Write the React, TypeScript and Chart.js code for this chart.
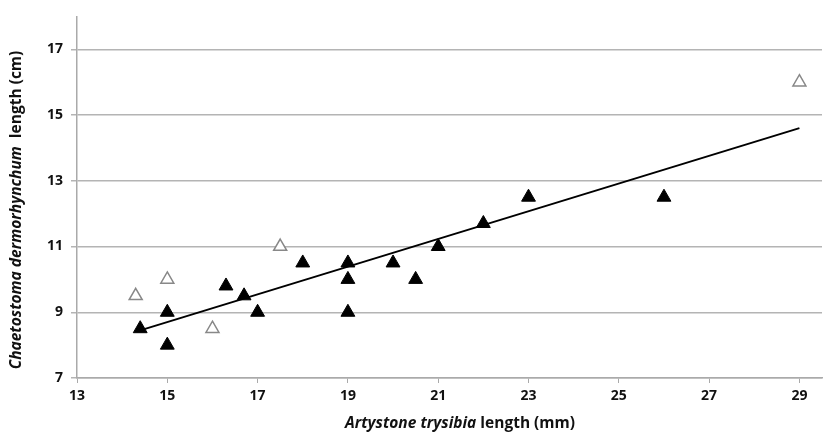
import React, { useEffect, useRef } from "react";
import { Chart, registerables } from "chart.js";

Chart.register(...registerables);

const xTicks = [13, 15, 17, 19, 21, 23, 25, 27, 29];
const yTicks = [7, 9, 11, 13, 15, 17];

const filledX = [14.4, 15, 15, 16.3, 16.7, 17, 18, 19, 19, 19, 20, 20.5, 21, 22, 23, 26];
const filledY = [8.5, 9, 8, 9.8, 9.5, 9, 10.5, 10.5, 10, 9, 10.5, 10, 11, 11.7, 12.5, 12.5];

const openX = [14.3, 15, 16, 17.5, 29];
const openY = [9.5, 10, 8.5, 11, 16];

const trendX = [14.4, 29];
const trendY = [8.45, 14.6];

const FONT = "'Open Sans', sans-serif";
const TITLE_SIZE = 15.5;

const titlePlugin = {
  id: "mixedTitles",
  afterDraw(chart: any) {
    const ctx = chart.ctx;
    const drawParts = (parts: { t: string; i: boolean }[]) => {
      let total = 0;
      const widths = parts.map((p) => {
        ctx.font = `${p.i ? "italic " : ""}bold ${TITLE_SIZE}px ${FONT}`;
        const w = ctx.measureText(p.t).width;
        total += w;
        return w;
      });
      let x = -total / 2;
      parts.forEach((p, k) => {
        ctx.font = `${p.i ? "italic " : ""}bold ${TITLE_SIZE}px ${FONT}`;
        ctx.fillText(p.t, x, 0);
        x += widths[k];
      });
    };
    ctx.save();
    ctx.fillStyle = "#111";
    ctx.textBaseline = "middle";
    ctx.textAlign = "left";
    ctx.translate(460, 424);
    drawParts([
      { t: "Artystone trysibia", i: true },
      { t: " length (mm)", i: false },
    ]);
    ctx.restore();
    ctx.save();
    ctx.fillStyle = "#111";
    ctx.textBaseline = "middle";
    ctx.textAlign = "left";
    ctx.translate(17, 210);
    ctx.rotate(-Math.PI / 2);
    drawParts([
      { t: "Chaetostoma dermorhynchum", i: true },
      { t: "  length (cm)", i: false },
    ]);
    ctx.restore();
  },
};

export default function App() {
  const ref = useRef<HTMLCanvasElement>(null);
  useEffect(() => {
    if (!ref.current) return;
    const chart = new Chart(ref.current, {
      type: "scatter",
      data: {
        datasets: [
          {
            type: "line",
            data: trendX.map((x, i) => ({ x, y: trendY[i] })),
            borderColor: "#000",
            borderWidth: 2,
            pointRadius: 0,
            fill: false,
          } as any,
          {
            data: filledX.map((x, i) => ({ x, y: filledY[i] })),
            pointStyle: "triangle",
            pointRadius: 8,
            backgroundColor: "#000",
            borderColor: "#000",
            borderWidth: 1,
          },
          {
            data: openX.map((x, i) => ({ x, y: openY[i] })),
            pointStyle: "triangle",
            pointRadius: 7.5,
            backgroundColor: "#fff",
            borderColor: "#888",
            borderWidth: 1.5,
          },
        ],
      },
      options: {
        animation: false,
        responsive: false,
        layout: { padding: { left: 0, right: 13, top: 14, bottom: 0 } },
        plugins: { legend: { display: false }, tooltip: { enabled: false } },
        scales: {
          x: {
            type: "linear",
            min: 13,
            max: 29.5,
            afterBuildTicks: (s: any) => {
              s.ticks = xTicks.map((v) => ({ value: v }));
            },
            afterFit: (s: any) => {
              s.height = 59;
            },
            grid: {
              drawOnChartArea: false,
              drawTicks: true,
              tickLength: 5,
              color: "#aaa",
            },
            border: { color: "#aaa", width: 1.5 },
            ticks: {
              color: "#111",
              font: { family: FONT, size: 14, weight: "bold" },
              padding: 5,
            },
          },
          y: {
            type: "linear",
            min: 7,
            max: 18,
            afterBuildTicks: (s: any) => {
              s.ticks = yTicks.map((v) => ({ value: v }));
            },
            afterFit: (s: any) => {
              s.width = 77;
            },
            grid: {
              drawTicks: true,
              tickLength: 6,
              color: "#b4b4b4",
              lineWidth: 1.5,
            },
            border: { color: "#aaa", width: 1.5 },
            ticks: {
              color: "#111",
              font: { family: FONT, size: 14, weight: "bold" },
              padding: 8,
            },
          },
        },
      },
      plugins: [titlePlugin],
    } as any);
    return () => chart.destroy();
  }, []);
  return (
    <div style={{ position: "fixed", left: 0, top: 0, width: 835, height: 437, background: "#fff" }}>
      <canvas ref={ref} width={835} height={437} style={{ width: 835, height: 437 }} />
    </div>
  );
}
